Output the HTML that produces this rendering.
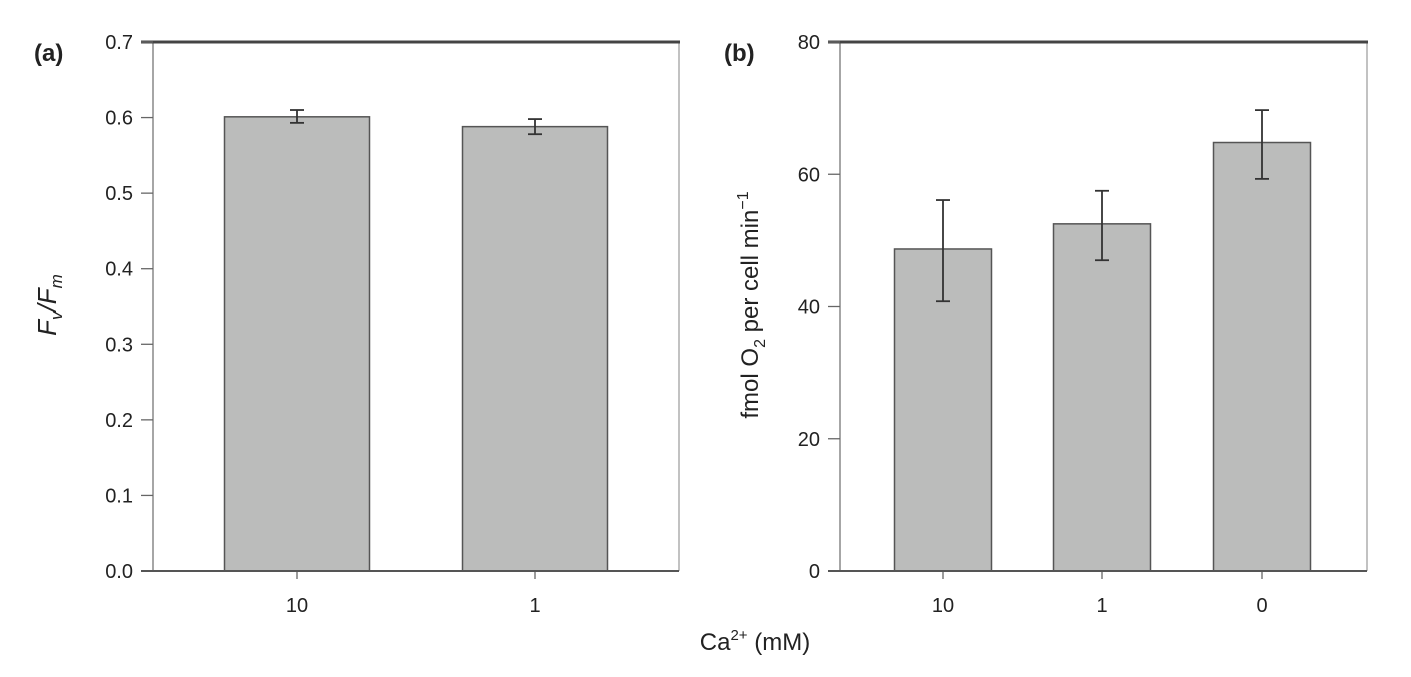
<!DOCTYPE html>
<html><head><meta charset="utf-8"><style>
html,body{margin:0;padding:0;background:#fff;}
svg{display:block;font-family:"Liberation Sans",Arial,sans-serif;}
</style></head><body>
<svg id="chart" width="1411" height="677" viewBox="0 0 1411 677">
<g id="pa"></g>
<g id="pb"></g>
<text x="755" y="650" font-size="24" text-anchor="middle" fill="#222">Ca<tspan font-size="15" dy="-10">2+</tspan><tspan dy="10"> (mM)</tspan></text>
<text x="34" y="61" font-size="24" font-weight="bold" fill="#222">(a)</text>
<text x="724" y="61" font-size="24" font-weight="bold" fill="#222">(b)</text>
<text transform="translate(56,305) rotate(-90)" font-size="26" text-anchor="middle" fill="#222" font-style="italic">F<tspan font-size="17" dy="6">v</tspan><tspan dy="-6">/F</tspan><tspan font-size="17" dy="6">m</tspan></text>
<text transform="translate(758,305) rotate(-90)" font-size="24" text-anchor="middle" fill="#222">fmol O<tspan font-size="16" dy="7">2</tspan><tspan dy="-7"> per cell min</tspan><tspan font-size="16" dy="-10">−1</tspan></text>
</svg>
<script>
const catsA = ["10","1"];
const valsA = [0.601,0.588];
const errHiA = [0.610,0.598];
const errLoA = [0.593,0.578];
const ticksA = ["0.0","0.1","0.2","0.3","0.4","0.5","0.6","0.7"];
const catsB = ["10","1","0"];
const valsB = [48.7,52.5,64.8];
const errHiB = [56.1,57.5,69.7];
const errLoB = [40.8,47.0,59.3];
const ticksB = ["0","20","40","60","80"];

const NS="http://www.w3.org/2000/svg";
function mk(parent,tag,attrs){const e=document.createElementNS(NS,tag);for(const k in attrs)e.setAttribute(k,attrs[k]);parent.appendChild(e);return e;}

function panel(g,cfg,cats,vals,hi,lo,ticks){
  const {x0,x1,y0,y1,max,barW,centers}=cfg;
  const yS=v=>y1-(v/max)*(y1-y0);
  let e=mk(g,'line',{x1:x0,y1:y0,x2:x0,y2:y1,stroke:'#888','stroke-width':1.5});
  
  
  e=mk(g,'line',{x1:x1,y1:y0,x2:x1,y2:y1,stroke:'#999','stroke-width':1.2});
  
  
  e=mk(g,'line',{x1:x0-12,y1:y0,x2:x1+1,y2:y0,stroke:'#444','stroke-width':3});
  
  
  ticks.forEach(t=>{
    const y=yS(parseFloat(t));
    let l=mk(g,'line',{x1:x0-12,y1:y,x2:x0,y2:y,stroke:'#666','stroke-width':1.3});
    
    
    let tx=mk(g,'text',{x:x0-20,y:y+7,'font-size':20,'text-anchor':'end',fill:'#222'});
    tx.textContent=t;
    
    
  });
  cats.forEach((c,i)=>{
    const cx=centers[i];
    const top=yS(vals[i]);
    let r=mk(g,'rect',{x:cx-barW/2,y:top,width:barW,height:y1-top,fill:'#bbbcbb',stroke:'#555','stroke-width':1.5});
    
    
    const eh=yS(hi[i]),el=yS(lo[i]);
    let eg=mk(g,'g',{stroke:'#333','stroke-width':1.8});
    
    
    mk(eg,'line',{x1:cx,y1:eh,x2:cx,y2:el});
    mk(eg,'line',{x1:cx-7,y1:eh,x2:cx+7,y2:eh});
    mk(eg,'line',{x1:cx-7,y1:el,x2:cx+7,y2:el});
    let tk=mk(g,'line',{x1:cx,y1:y1,x2:cx,y2:y1+8,stroke:'#666','stroke-width':1.3});
    
    
    let tx=mk(g,'text',{x:cx,y:y1+41,'font-size':20,'text-anchor':'middle',fill:'#222'});
    tx.textContent=c;
    
    
  });
  e=mk(g,'line',{x1:x0-12,y1:y1,x2:x1,y2:y1,stroke:'#555','stroke-width':2});
  
  
}
panel(document.getElementById('pa'),{x0:153,x1:679,y0:42,y1:571,max:0.7,barW:145,centers:[297,535]},catsA,valsA,errHiA,errLoA,ticksA);
panel(document.getElementById('pb'),{x0:840,x1:1367,y0:42,y1:571,max:80,barW:97,centers:[943,1102,1262]},catsB,valsB,errHiB,errLoB,ticksB);
</script>
</body></html>
